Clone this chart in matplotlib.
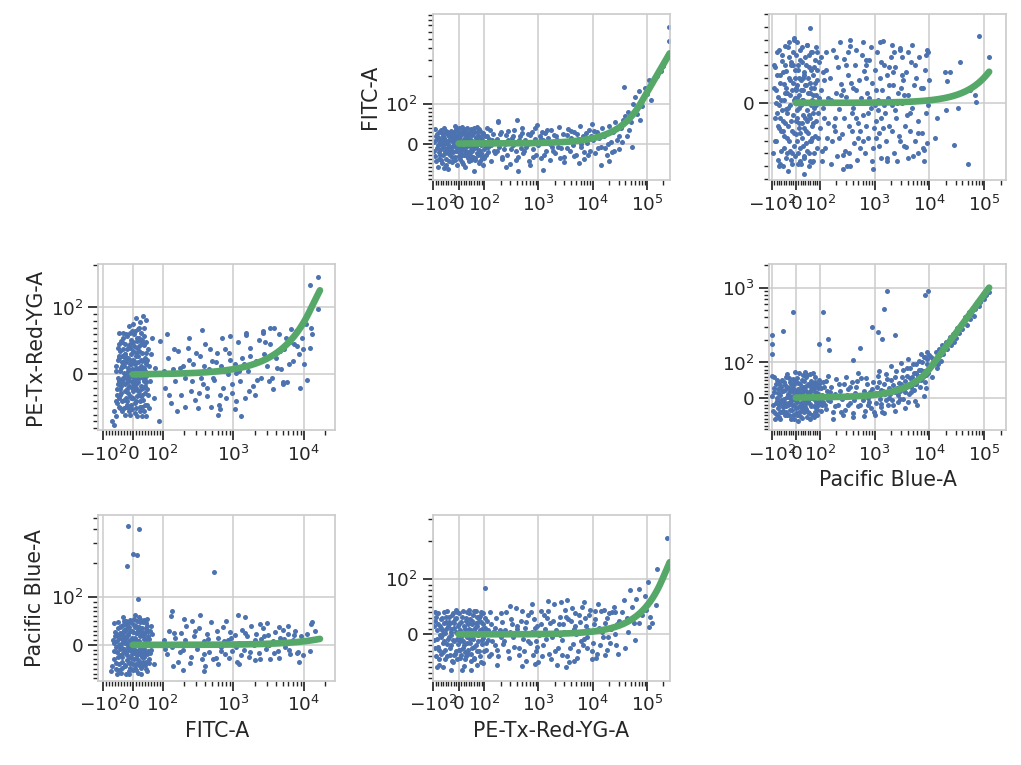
import numpy as np
import matplotlib
matplotlib.use("Agg")
import matplotlib.pyplot as plt
from matplotlib.ticker import FixedLocator

# seaborn-like "whitegrid" look, with ticks
plt.rcParams.update({
    'font.family': 'DejaVu Sans',
    'axes.edgecolor': '#cccccc',
    'axes.linewidth': 1.25,
    'axes.grid': True,
    'axes.axisbelow': True,
    'grid.color': '#cccccc',
    'grid.linewidth': 1.1,
    'text.color': '#262626',
    'axes.labelcolor': '#262626',
    'xtick.color': '#262626',
    'ytick.color': '#262626',
    'xtick.major.size': 7, 'ytick.major.size': 7,
    'xtick.minor.size': 3.5, 'ytick.minor.size': 3.5,
    'xtick.major.width': 1.25, 'ytick.major.width': 1.25,
    'xtick.minor.width': 1.0, 'ytick.minor.width': 1.0,
    'axes.labelsize': 14.8,
    'xtick.labelsize': 13.3, 'ytick.labelsize': 13.3,
})

BLUE = '#4c72b0'
GREEN = '#55a868'

channels = ['FITC-A', 'PE-Tx-Red-YG-A', 'Pacific Blue-A']

# ---- bleedthrough fits (slope, max x of the fitted line) ----
slope_pe_fitc, xmax_pe_fitc = 0.00134, 262144
slope_pb_fitc, xmax_pb_fitc = 2.0e-4, 123000
slope_fitc_pe, xmax_fitc_pe = 0.00786, 16800
slope_pb_pe, xmax_pb_pe = 0.00813, 123000
slope_fitc_pb, xmax_fitc_pb = 7.5e-4, 16800
slope_pe_pb, xmax_pe_pb = 5.2e-4, 262144

# ---- events (x, y) ----
pts_pe_fitc = np.array([
    (-95,-20),(-90,10),(-88,-45),(-85,25),(-82,-5),(-80,-60),(-78,15),(-75,-30),(-72,5),(-70,35),
    (-68,-15),(-65,-50),(-62,20),(-60,-8),(-58,40),(-55,-25),(-52,10),(-50,-40),(-48,28),(-45,-12),
    (-42,0),(-40,-65),(-38,18),(-35,-30),(-32,8),(-30,32),(-28,-18),(-25,-48),(-22,22),(-20,-5),
    (-18,12),(-15,-35),(-12,38),(-10,-10),(-8,5),(-5,-55),(-3,25),(0,-22),(2,15),(5,-40),
    (8,30),(10,-8),(12,42),(15,-28),(18,10),(20,-15),(22,35),(25,-60),(28,3),(30,20),
    (32,-32),(35,-2),(38,27),(40,-45),(42,12),(45,-18),(48,38),(50,-8),(52,22),(55,-35),
    (58,5),(60,-70),(62,30),(65,-12),(68,15),(70,-25),(72,42),(75,0),(78,-50),(80,18),
    (82,-20),(85,32),(88,-5),(90,10),(92,-38),(95,25),(98,-15),(105,5),(110,-30),(115,20),
    (120,-10),(128,35),(135,-45),(140,8),(150,-20),
    (-92,38),(-76,-40),(-58,-62),(-44,30),(-26,-8),(-14,44),(4,-12),(16,-52),(34,40),(46,-30),
    (64,-42),(86,-28),(-66,2),(-36,-20),(-6,18),(26,-20),(56,28),(76,20),(94,-55),
    (-97,5),(-93,-32),(-87,18),(-84,-12),(-79,30),(-77,-22),(-74,-2),(-71,-42),(-67,10),(-64,28),
    (-61,-30),(-59,-2),(-56,15),(-53,-18),(-51,32),(-49,-55),(-46,2),(-43,22),(-41,-25),(-39,8),
    (-36,-45),(-33,26),(-31,-10),(-29,14),(-27,-35),(-24,4),(-21,-22),(-19,30),(-16,-2),(-13,-42),
    (-11,18),(-9,-20),(-7,34),(-4,-8),(-1,10),(1,-32),(3,40),(6,0),(9,-18),(11,22),
    (14,-48),(17,5),(19,28),(21,-30),(24,14),(27,-8),(29,36),(31,-22),(33,4),(36,-36),
    (39,18),(41,-4),(44,30),(47,-42),(49,8),(51,-20),(54,26),(57,-12),(59,40),(61,-2),
    (63,-38),(66,16),(69,-8),(71,30),(74,-30),(77,6),(79,-16),(81,36),(84,-45),(87,14),
    (89,-25),(93,4),(97,28),(100,-38),(103,20),(107,-10),(112,40),(118,-22),(125,12),(132,-4),(145,24),
    (160,-25),(170,12),(180,55),(190,-8),(200,30),(210,-40),(220,5),(235,-15),(250,22),(265,-30),
    (280,8),(300,-52),(320,15),(340,-5),(360,35),(380,-20),(400,2),(420,-35),(450,18),(480,-12),
    (500,40),(530,-25),(560,10),(600,-8),(640,25),(680,-45),(720,5),(760,30),(800,-15),(850,12),
    (900,-30),(950,48),(1000,-5),(1050,20),(1100,-38),(1200,8),(1300,28),(1400,-18),(1500,15),(1600,-42),
    (1700,35),(1800,-8),(1900,22),(2000,-25),(2200,10),(2400,42),(2600,-12),(2800,25),(3000,-35),(3200,5),
    (3500,38),(3800,-20),(4000,15),(4300,-5),(4600,30),(5000,-28),(5400,12),(5800,45),(6200,-10),(6600,20),
    (7000,-40),(7500,28),(8000,2),(8500,35),(9000,-18),(9500,50),(10000,8),(11000,-25),(12000,30),(13000,15),
    (14000,-8),(15000,40),(16000,20),(18000,-30),(20000,45),(22000,5),(24000,30),(26000,55),(28000,10),(30000,-15),
    (33000,40),(36000,60),(250,-60),(700,-55),(1200,-68),(3000,-48),(400,60),(5500,-50),(14000,-55),(20000,-45),
    (420,-70),(181,57),(2300,-10),(6800,-22),(1150,30),(3300,22),(650,-2),(9200,18),(17000,-12),(25000,-20),
    (155,5),(175,-18),(195,25),(215,-35),(245,0),(275,32),(310,-15),(345,18),(390,-42),(440,8),
    (490,28),(550,-18),(620,2),(700,22),(780,-35),(870,40),(980,-2),(1100,12),(1250,-28),(1450,35),
    (1650,0),(1850,-20),(2100,18),(2500,-38),(2900,5),(3400,-12),(3900,32),(4500,-32),(5200,25),(6000,-2),
    (7200,14),(8200,-30),(10500,32),(12500,-12),(15500,22),(19000,0),(23000,-22),(27000,38),(31000,20),(35000,5),
    (40000,70),(45000,80),(50000,55),(55000,100),(60000,120),(65000,75),(70000,140),(80000,95),(90000,150),
    (100000,130),(110000,180),(120000,110),(150000,200),(180000,230),(200000,260),(38000,155),
    (255000,680),(258000,480),(42000,20),(47000,35),(52000,-10),(75000,60),
])

pts_pb_fitc = np.array([
    (-92,12),(-88,-30),(-85,28),(-80,-8),(-78,40),(-75,-45),(-72,5),(-70,-20),(-66,22),(-63,-38),
    (-60,2),(-57,33),(-55,-14),(-52,-50),(-50,15),(-47,-26),(-45,45),(-42,-5),(-40,25),(-37,-40),
    (-35,8),(-32,-18),(-30,36),(-27,-30),(-25,-2),(-22,18),(-20,-45),(-17,10),(-15,-22),(-12,30),
    (-10,-10),(-8,50),(-6,-34),(-4,4),(-2,20),(0,-25),(2,38),(4,-6),(6,14),(8,-48),
    (10,26),(12,-16),(14,6),(16,-36),(18,42),(20,-2),(22,18),(24,-28),(26,32),(28,-10),
    (30,10),(32,-42),(34,24),(36,-20),(38,0),(40,36),(42,-32),(44,14),(46,-6),(48,46),
    (50,-24),(52,8),(54,-40),(56,28),(58,-12),(60,16),(62,-30),(64,40),(66,2),(68,-18),
    (70,22),(72,-46),(74,12),(76,-4),(78,34),(80,-26),(82,6),(84,-14),(86,26),(88,-36),
    (90,18),(92,-8),(95,32),(100,-20),(105,10),(110,-38),(115,24),(120,-12),(128,40),(135,-28),(142,4),
    (-84,0),(-64,-12),(-46,8),(-28,48),(-14,-40),(0,12),(14,-20),(28,20),(42,0),(56,-50),
    (70,-8),(84,44),(-36,-8),(-18,30),(6,-12),(24,2),(48,-14),(64,12),(-52,-22),(32,-56),
    (-94,-40),(-91,30),(-87,-12),(-83,10),(-81,-30),(-77,22),(-74,-18),(-71,42),(-69,-2),(-67,-48),
    (-64,16),(-61,-22),(-59,38),(-56,-6),(-53,24),(-51,-36),(-49,2),(-46,-16),(-43,30),(-41,-44),
    (-39,12),(-36,-28),(-33,44),(-31,-4),(-29,20),(-26,-38),(-23,6),(-21,32),(-19,-14),(-16,-48),
    (-13,16),(-11,40),(-9,-24),(-7,2),(-5,26),(-3,-42),(-1,10),(1,-14),(3,48),(5,-30),
    (7,4),(9,30),(11,-40),(13,20),(15,-4),(17,-24),(19,34),(21,-48),(23,10),(25,-16),
    (27,44),(29,-34),(31,2),(33,22),(35,-44),(37,14),(39,-12),(41,30),(43,-22),(45,46),
    (47,-38),(49,0),(51,20),(53,-10),(55,38),(57,-30),(59,8),(61,-46),(63,26),(65,-2),
    (67,40),(69,-28),(71,6),(73,-16),(75,28),(77,-40),(79,16),(83,-2),(87,40),(91,-28),
    (97,4),(103,36),(108,-46),(113,-4),(118,18),(125,-36),(132,26),(138,-16),
    (58,59),(-7,51),(-68,-50),(-32,-54),(19,-46),(67,-47),
    (155,20),(165,-30),(175,42),(185,-12),(195,8),(205,-42),(215,28),(225,-5),(240,15),(255,-25),
    (270,35),(285,-38),(300,5),(320,22),(340,-18),(360,45),(380,-8),(400,12),(420,-32),(445,30),
    (470,-45),(495,0),(520,18),(550,-22),(580,38),(610,-10),(640,25),(680,-40),(720,8),(760,-28),
    (800,34),(850,-4),(900,16),(950,-36),(1000,26),(1050,-14),(1100,40),(1150,2),(1200,-24),(1260,20),
    (1320,-44),(1380,10),(1450,30),(1520,-8),(1600,-30),(1680,22),(1760,4),(1850,-18),(1950,36),(2050,-2),
    (2150,14),(2250,-40),(2350,28),(2500,-12),(2650,8),(2800,-26),(2950,42),(3100,0),(3300,18),(3500,-34),
    (3700,24),(3900,-10),(4100,6),(4350,-22),(4600,32),(4900,-4),(5200,14),(5500,-30),(5800,20),(6100,-14),
    (6500,36),(6900,2),(7300,-24),(7700,12),(8200,26),(8700,-8),(9200,-32),(9800,18),
    (160,-48),(230,48),(310,-50),(390,-22),(460,10),(530,-36),(600,48),(700,-18),(780,4),(880,-46),
    (1080,-28),(1230,48),(1420,-20),(1700,-44),(2100,46),(2600,-46),(3200,36),(4000,-44),(4800,46),(6300,-40),
    (7800,-46),(9500,40),(2200,24),(3400,6),(1150,-6),(700,30),(450,-12),(260,10),(190,-22),
    (158,2),(178,-18),(198,36),(222,-28),(248,6),(276,-12),(305,30),(335,-40),(370,16),(410,-4),
    (455,42),(505,-16),(560,4),(625,-30),(690,20),(770,-8),(860,44),(960,-20),(1070,10),(1190,-34),
    (1330,32),(1490,-2),(1660,-46),(1850,14),(2070,-22),(2300,40),(2570,0),(2870,-30),(3200,22),(3570,-18),
    (3980,40),(4440,-8),(4950,-42),(5520,30),(6160,-24),(6870,12),(7660,-36),(8540,38),(9520,-2),(1000,-2),
    (1300,-12),(1800,28),(2400,-6),(3000,12),(500,-28),(700,34),(320,40),
    (262,-52),(350,-50),(950,-52),(265,-41),(1400,49),(360,50),(2900,43),(9000,42),(3800,-35),(8000,-37),
    (79000,53),(123000,36),(51000,-48),(28000,-33),(23500,24),(36000,32),(68000,6),(70000,1),(55000,10),
    (19000,24),(21000,17),(14000,3),(20000,-6),(12400,-28),(14000,-12),(33000,-4),
])

pts_fitc_pe = np.array([
    (-58,-62),(-55,5),(-52,-30),(-50,22),(-48,-48),(-46,-10),(-44,35),(-42,-22),(-40,10),(-38,-55),
    (-36,48),(-34,-5),(-32,18),(-30,-38),(-28,30),(-26,-15),(-24,60),(-22,0),(-20,-45),(-18,25),
    (-16,-28),(-14,42),(-12,-8),(-10,15),(-8,-60),(-6,52),(-4,-20),(-2,8),(0,35),(2,-35),
    (4,20),(6,-12),(8,65),(10,-50),(12,2),(14,40),(16,-25),(18,28),(20,-5),(22,55),
    (24,-40),(26,12),(28,-18),(30,45),(32,-30),(34,6),(36,70),(38,-10),(40,25),(42,-45),
    (44,18),(46,82),(48,-22),(50,38),(52,0),
    (-45,45),(-35,-40),(-25,-60),(-15,10),(-5,30),(5,-5),(15,50),(25,-55),(35,-20),(45,15),
    (-40,-18),(-30,2),(-20,38),(-10,-32),(0,-12),(10,28),(20,-30),(30,8),(40,-8),(-50,-15),
    (-28,-2),(-18,-12),(-8,22),(2,48),(12,-40),(22,10),(32,32),(42,-28),(-36,12),(-26,25),
    (-6,-45),(8,-22),(18,6),(28,62),(38,44),(-12,72),(-2,-52),(14,-62),(24,78),(34,88),
    (-22,-35),(6,15),(-16,-10),(-4,-2),(-32,55),(-14,-50),(4,60),(16,-5),(26,-32),(36,22),
    (-44,-30),(-24,18),(-8,40),(10,-15),(20,42),(30,-48),(44,-12),(-38,28),(-20,-22),(0,5),
    (-57,12),(-54,-22),(-51,40),(-49,-5),(-47,25),(-45,-35),(-43,5),(-41,50),(-39,-28),(-37,18),
    (-35,-8),(-33,38),(-31,-50),(-29,12),(-27,-25),(-25,30),(-23,-5),(-21,58),(-19,-40),(-17,5),
    (-15,25),(-13,-18),(-11,45),(-9,-2),(-7,-35),(-5,15),(-3,65),(-1,-25),(1,22),(3,-8),
    (5,42),(7,-42),(9,10),(11,-20),(13,55),(15,-32),(17,18),(19,-12),(21,35),(23,-48),
    (25,2),(27,48),(29,-22),(31,20),(33,-5),(35,-38),(37,10),(39,58),(41,-18),(43,32),
    (45,-2),(47,-45),(49,22),(51,-30),(53,12),
    (-48,28),(-38,-12),(-28,45),(-18,-2),(-8,62),(2,-18),(12,32),(22,-25),(32,52),(42,5),
    (-44,-50),(-24,-48),(-4,-12),(16,68),(26,22),(36,-55),(46,48),(-34,62),(-14,-55),(6,-58),
    (-46,62),(-52,-42),(0,75),(10,84),(20,70),(30,-62),
    (-70,-70),(-62,-75),(-65,-55),(-55,-40),(45,-62),(55,-50),(60,30),(65,55),(58,-10),(70,-35),(75,10),
    (110,-20),(120,25),(130,-42),(140,8),(150,-10),(165,35),(180,-30),(195,12),(210,-5),(230,40),
    (250,-25),(270,15),(290,-38),(310,2),(340,28),(370,-15),(400,45),(430,-32),(460,8),(500,20),
    (540,-8),(580,32),(620,-45),(670,12),(720,-20),(770,38),(830,0),(900,22),(970,-28),(1050,15),
    (1150,48),(1250,-10),(1350,25),(1480,-35),(1600,5),(1750,40),(1900,-18),(2100,20),(2300,52),(2500,-5),
    (2750,30),(3000,12),(3300,45),(3600,-22),(4000,25),(4400,60),(4800,8),(5300,38),(5800,-12),(6400,48),
    (7000,20),(7700,65),(8500,30),(9300,55),(10000,15),
    (115,60),(160,-55),(240,55),(320,-50),(480,-48),(700,55),(1100,-40),(1500,62),(2000,-30),(3800,70),
    (5000,-15),(600,-60),(1300,-62),(900,58),(2600,62),(350,-5),(800,-35),(1200,5),(1700,28),(3200,-10),
    (4600,35),(6600,68),(12000,40),(12500,70),(13000,60),(11000,-8),(9000,72),(8000,42),
    (105,5),(125,-30),(145,38),(175,10),(205,-48),(235,22),(265,-10),(300,32),(330,-28),(380,12),
    (420,-20),(470,38),(520,-5),(570,18),(650,-30),(750,5),(860,32),(950,-15),(1100,2),(1400,15),
    (1650,-25),(2200,-8),(2800,48),(3500,-5),(4200,10),(5500,55),(6200,15),(7300,45),(8800,-20),(9600,38),
    (5100,-11),(1060,-51),(640,-52),(89,-70),(360,66),(2650,65),(3300,70),(1500,59),(92,50),
    (12000,143),(16000,164),(16000,98),(10500,75),
])

pts_pb_pe = np.array([
    (-95,-20),(-90,15),(-86,-45),(-82,40),(-78,0),(-75,-30),(-72,25),(-68,-55),(-65,8),(-62,-12),
    (-58,50),(-55,-38),(-52,18),(-48,-5),(-45,35),(-42,-25),(-40,60),(-37,-48),(-34,10),(-31,-15),
    (-28,28),(-25,-35),(-22,45),(-20,2),(-17,-22),(-14,20),(-11,-50),(-8,38),(-5,-8),(-2,15),
    (0,-30),(3,55),(6,-12),(9,25),(12,-42),(15,5),(18,40),(21,-20),(24,12),(27,-58),
    (30,30),(33,-6),(36,48),(39,-28),(42,18),(45,-10),(48,65),(51,-40),(54,8),(57,32),
    (60,-18),(63,22),(66,-48),(69,42),(72,0),(75,-25),(78,15),(81,58),(84,-12),(87,35),
    (90,-35),(93,10),(96,50),(100,-8),(105,28),(110,-22),(115,45),(120,5),(128,-32),(135,20),(142,62),
    (-80,-10),(-60,30),(-44,-50),(-26,-2),(-12,52),(4,-50),(20,-38),(34,0),(50,40),(64,-2),
    (80,-42),(94,-22),(-70,45),(-50,-22),(-30,8),(-18,-60),(8,8),(26,-30),(44,34),(58,-60),
    (76,28),(-88,-60),(-66,-40),(14,70),(40,72),(70,70),(-35,68),(-5,72),
    (-97,5),(-93,-38),(-89,28),(-84,-15),(-80,50),(-77,-48),(-73,12),(-69,-22),(-67,35),(-63,-8),
    (-59,-42),(-56,20),(-53,-28),(-50,45),(-47,-12),(-44,22),(-41,-40),(-38,2),(-36,30),(-33,-20),
    (-30,55),(-27,-50),(-24,18),(-21,-10),(-19,38),(-16,-35),(-13,5),(-10,28),(-7,-22),(-4,48),
    (-1,-45),(2,20),(5,-2),(8,42),(11,-28),(14,15),(17,-52),(20,28),(23,-15),(26,50),
    (29,0),(32,-42),(35,22),(38,-18),(41,60),(44,-32),(47,8),(50,-10),(53,35),(56,-45),
    (59,15),(62,48),(65,-25),(68,2),(71,32),(74,-55),(77,-5),(80,45),(83,-30),(86,12),
    (89,-48),(92,28),(95,-15),(98,38),(103,-38),(108,8),(113,-12),(118,30),(124,-20),(132,48),
    (139,-8),(-64,-60),(-8,-60),(46,-55),(-90,60),(30,65),(10,-65),(60,68),
    (-13,474),(113,474),(-55,264),(-100,233),(-100,177),(-100,129),(-100,62),
    (150,-10),(160,30),(170,-40),(185,10),(200,52),(215,-22),(230,18),(250,-5),(270,40),(290,-35),
    (310,8),(330,25),(355,-15),(380,45),(405,-45),(430,12),(460,30),(490,-25),(520,5),(560,55),
    (600,-8),(640,20),(680,-38),(720,38),(770,0),(820,15),(870,-30),(920,45),(980,8),(1040,-15),
    (1100,30),(1160,62),(1230,-5),(1300,22),(1380,-40),(1460,40),(1550,10),(1640,68),(1740,-20),(1850,28),
    (1960,50),(2080,-8),(2200,35),(2330,15),(2470,75),(2620,-12),(2780,42),(2950,20),(3130,60),(3320,-5),
    (3520,48),(3730,30),(3950,85),(4200,10),(4450,55),(4720,38),(5000,95),(5300,22),(5620,70),(5960,48),
    (6320,105),(6700,30),(7100,80),(7530,60),(7980,118),(8460,45),(8970,95),(9500,70),
    (175,-60),(260,-48),(400,-55),(650,-52),(1000,-50),(1500,-45),(2400,-38),(3600,-30),(5500,-10),(8000,5),
    (300,60),(500,70),(1200,75),(2000,90),(3000,98),(7000,130),(9000,140),(4000,110),(6000,-20),(250,0),
    (750,-20),(1800,0),(2700,8),(4600,15),(700,10),(1300,-18),(3400,25),(5800,40),(8500,28),
    (155,15),(190,-25),(220,38),(245,-42),(280,5),(320,-22),(360,30),(420,-8),(480,48),(540,-20),
    (620,2),(700,55),(790,-12),(880,25),(960,-40),(1070,12),(1180,45),(1320,-28),(1420,18),(1600,-8),
    (1700,52),(1900,10),(2150,-22),(2350,58),(2550,28),(2850,-5),(3050,40),(3250,80),(3600,15),(3850,62),
    (4100,-12),(4350,85),(4600,30),(4900,58),(5150,70),(5450,40),(5750,95),(6100,62),(6500,80),(6900,50),
    (7300,100),(7800,75),(8200,120),(8700,65),(9200,110),(9700,90),(9900,125),
    (1650,900),(8400,800),(9500,900),(1450,520),(900,300),(1150,257),(1350,207),(2400,233),(138,207),
    (95,177),(145,148),(534,157),(400,108),
    (10500,90),(11000,60),(11500,110),(12000,95),(13000,140),(13500,85),(14000,120),(15000,150),(16000,105),
    (17000,170),(18000,130),(20000,190),(21000,150),(23000,200),(25000,170),(27000,240),(30000,210),
    (32000,290),(35000,250),(38000,330),(40000,280),(45000,400),(48000,320),(52000,470),(55000,380),
    (60000,520),(65000,420),(70000,600),(80000,560),(90000,750),(100000,700),(115000,920),(120000,870),
    (10800,120),(12500,110),(14500,95),(16500,140),(19000,165),(22000,175),(24000,220),(28000,190),
    (33000,260),(36000,300),(42000,350),(50000,410),(58000,450),(68000,520),(75000,650),(85000,640),
    (95000,820),(110000,800),
])

pts_fitc_pb = np.array([
    (-65,-30),(-62,5),(-58,-50),(-55,20),(-52,-15),(-50,35),(-48,-40),(-45,0),(-42,25),(-40,-58),
    (-38,12),(-36,-25),(-34,42),(-32,-8),(-30,18),(-28,-45),(-26,30),(-24,-18),(-22,50),(-20,2),
    (-18,-32),(-16,22),(-14,-55),(-12,38),(-10,-10),(-8,10),(-6,-38),(-4,45),(-2,-20),(0,28),
    (2,-5),(4,55),(6,-48),(8,15),(10,-28),(12,40),(14,0),(16,-15),(18,32),(20,-42),
    (22,8),(24,48),(26,-22),(28,20),(30,-6),(32,36),(34,-35),(36,12),(38,52),(40,-18),
    (42,26),(44,-50),(46,4),(48,40),(50,-12),(52,18),(55,-30),(58,30),
    (-56,-5),(-46,15),(-36,-48),(-26,8),(-16,45),(-6,-2),(4,-30),(14,25),(24,-35),(34,20),
    (44,45),(-60,18),(-44,-22),(-30,50),(-10,30),(10,-52),(20,58),(30,-25),(40,2),(-20,-12),
    (0,-40),(-40,40),(6,38),(16,-58),(26,52),(36,-8),(-34,28),(-14,-25),(-4,15),(46,-35),
    (-24,-60),(-50,48),(62,-10),(65,22),(70,-40),(-70,-45),(-75,-55),(-68,10),
    (-28,5),(-8,-48),(12,10),(32,-45),(50,30),(-42,-8),(-18,35),(2,-15),(22,-10),(42,12),
    (-63,-12),(-59,28),(-57,-38),(-53,8),(-51,-25),(-49,20),(-47,-52),(-44,38),(-41,-5),(-39,22),
    (-37,-35),(-35,5),(-33,-18),(-31,32),(-29,-8),(-27,45),(-25,-42),(-23,15),(-21,-22),(-19,42),
    (-17,-5),(-15,20),(-13,-38),(-11,8),(-9,52),(-7,-28),(-5,0),(-3,30),(-1,-52),(1,12),
    (3,-18),(5,42),(7,-10),(9,25),(11,-40),(13,50),(15,-22),(17,8),(19,-32),(21,38),
    (23,-8),(25,18),(27,-48),(29,30),(31,-15),(33,48),(35,2),(37,-25),(39,22),(41,-42),
    (43,10),(45,35),(47,-20),(49,55),(51,0),(53,-38),(56,12),(59,-18),(61,40),(-54,-60),
    (-32,58),(-12,-60),(8,62),(28,-60),(48,-55),(-62,45),
    (-15,420),(22,400),(2,241),(13,234),(-18,187),(19,97),(535,167),
    (105,10),(115,-20),(125,30),(135,-5),(150,15),(165,-35),(180,25),(195,-10),(215,40),(235,0),
    (255,-25),(280,18),(305,-8),(330,35),(360,-30),(390,8),(420,22),(455,-15),(490,48),(530,2),
    (570,-28),(610,15),(660,-5),(710,38),(770,-20),(830,10),(900,28),(970,-12),(1050,20),(1130,-35),
    (1220,5),(1320,32),(1420,-10),(1540,18),(1660,-25),(1800,40),(1950,0),(2100,22),(2280,-18),(2460,12),
    (2660,35),(2880,-8),(3100,20),(3360,-30),(3640,8),(3940,28),(4270,-12),(4620,15),(5000,32),(5400,-5),
    (5850,22),(6350,-20),(6900,10),(7500,30),(8200,-15),(9000,18),(11000,22),(13000,48),(9800,-22),
    (140,-45),(200,55),(400,-45),(800,50),(1200,-40),(2000,-32),(3000,45),(4400,-28),(6000,40),(130,60),(260,50),
    (110,-8),(145,25),(175,-15),(205,10),(245,-38),(290,30),(340,0),(380,-20),(440,12),(510,-30),
    (590,30),(680,-12),(740,8),(860,-28),(940,15),(1080,-5),(1280,-22),(1480,25),(1700,-15),(2000,10),
    (2350,-30),(2750,18),(3250,0),(3800,-18),(4500,38),(5200,12),(6100,-10),(7200,20),(8600,-35),(10500,8),
    (12000,-12),(14500,30),
    (138,72),(335,62),(1180,62),(1470,58),(2400,44),(12500,44),(196,-52),(380,-54),(610,-40),(8000,-17),
])

pts_pe_pb = np.array([
    (-98,-10),(-94,25),(-90,-40),(-86,8),(-83,-22),(-80,38),(-76,-55),(-73,15),(-70,-5),(-66,30),
    (-63,-32),(-60,0),(-57,20),(-54,-45),(-50,10),(-47,-18),(-44,42),(-41,-8),(-38,22),(-35,-38),
    (-32,5),(-29,-20),(-26,35),(-23,-50),(-20,12),(-17,-12),(-14,28),(-11,-30),(-8,2),(-5,40),
    (-2,-18),(1,18),(4,-42),(7,8),(10,-5),(13,32),(16,-25),(19,15),(22,-58),(25,0),
    (28,25),(31,-15),(34,40),(37,-35),(40,10),(43,-8),(46,28),(49,-48),(52,18),(55,-2),
    (58,36),(61,-22),(64,5),(67,42),(70,-30),(73,15),(76,-12),(79,30),(82,-40),(85,2),
    (88,22),(91,-18),(94,38),(97,-6),(102,12),(108,-28),(114,25),(120,-10),(128,40),(136,-35),(145,5),
    (-92,40),(-78,-28),(-62,-60),(-48,32),(-30,-2),(-12,45),(6,-28),(24,-32),(42,45),(60,-45),
    (78,0),(96,-52),(-68,12),(-36,18),(-6,-8),(18,-12),(36,20),(54,-25),(72,-55),(90,10),
    (-84,-60),(-20,-38),(15,-65),(48,2),(84,34),(-56,-12),(-24,22),(0,-10),(30,-40),(66,20),
    (-96,15),(-92,-25),(-88,32),(-85,-8),(-81,18),(-78,-45),(-74,-2),(-71,28),(-68,-35),(-64,8),
    (-61,-15),(-58,40),(-55,-28),(-52,2),(-49,22),(-45,-40),(-42,15),(-39,-5),(-36,32),(-33,-25),
    (-30,10),(-27,-48),(-24,38),(-21,-10),(-18,20),(-15,-35),(-12,5),(-9,30),(-6,-45),(-3,15),
    (0,-28),(3,38),(5,-12),(8,22),(11,-38),(14,2),(17,42),(20,-20),(23,10),(26,-45),
    (29,30),(32,-5),(35,18),(38,-28),(41,38),(44,-15),(47,8),(50,-35),(53,25),(56,-8),
    (59,42),(62,-42),(65,12),(68,-20),(71,32),(74,-2),(77,22),(80,-30),(83,8),(86,-50),
    (89,40),(92,-10),(95,18),(99,-30),(104,30),(110,-15),(116,8),(124,-40),(132,18),(140,-12),
    (47,-64),(-30,-64),(105,85),
    (155,-20),(165,30),(180,-40),(195,8),(210,22),(230,-12),(250,40),(270,-30),(295,5),(320,18),
    (350,-22),(380,48),(410,0),(445,-38),(480,25),(520,-8),(560,12),(600,-48),(650,35),(700,-15),
    (760,5),(820,28),(890,-30),(960,15),(1040,-2),(1120,42),(1210,-20),(1310,10),(1420,30),(1540,-35),
    (1660,20),(1800,-5),(1950,55),(2100,8),(2280,-25),(2460,32),(2660,-10),(2880,18),(3120,45),(3380,-40),
    (3650,5),(3950,25),(4280,-18),(4630,38),(5000,0),(5400,-30),(5850,22),(6330,50),(6850,-8),(7400,15),
    (8000,-25),(8650,35),(9350,5),(10100,-15),(11000,28),(12000,-35),(13000,12),(14200,42),(15500,-5),(17000,20),
    (18500,-28),(20000,38),(22000,10),(24500,50),(27000,-20),(30000,25),
    (170,-55),(300,52),(500,-58),(750,55),(1000,-50),(1500,60),(2200,-55),(3300,62),(4500,-48),(7000,58),
    (9800,-45),(2600,58),(200,-5),(400,10),(900,-12),(1250,35),(1700,-45),(2500,-2),(3500,28),(4800,15),
    (6000,-12),(8200,8),(11500,-42),(16000,45),(19000,-5),(26000,40),(28000,18),(12500,55),
    (158,12),(175,-28),(200,38),(220,-18),(245,8),(285,-42),(310,28),(340,-5),(395,15),(430,-25),
    (500,42),(540,-30),(580,22),(630,-12),(720,40),(800,-38),(860,12),(940,-22),(1100,18),(1180,-40),
    (1360,-8),(1480,42),(1600,0),(1880,25),(2050,-30),(2380,18),(2750,-38),(3000,5),(3250,32),(3800,-25),
    (4100,48),(4450,10),(5200,-42),(5650,35),(6600,-20),(7200,30),(7800,-5),(9000,45),(9700,-30),(10500,18),
    (11200,42),(13600,-20),(14800,5),(16500,-38),(18000,30),(21000,-15),(23000,40),(25500,0),(29000,-35),
    (860,-53),(3200,-59),(3700,-50),
    (35000,40),(38000,62),(42000,30),(48000,80),(52000,50),(58000,20),(62000,65),(72000,83),(80000,35),
    (95000,45),(105000,95),(110000,13),(115000,31),(145000,53),(150000,121),(230000,210),(60000,-10),
    (40000,-25),(45000,5),(90000,70),(125000,20),(70000,21),
])

# (row, col, points, slope, xmax, xlim, ylim, x linscale, y linscale)
panels = [
    (0, 1, pts_pe_fitc, slope_pe_fitc, xmax_pe_fitc, (-102, 262144), (-93, 920), 0.47, 0.42),
    (0, 2, pts_pb_fitc, slope_pb_fitc, xmax_pb_fitc, (-112, 250000), (-61, 70), 0.44, 0.42),
    (1, 0, pts_fitc_pe, slope_fitc_pe, xmax_fitc_pe, (-117, 27700), (-83, 201), 0.42, 0.47),
    (1, 2, pts_pb_pe, slope_pb_pe, xmax_pb_pe, (-112, 250000), (-92, 2050), 0.44, 0.47),
    (2, 0, pts_fitc_pb, slope_fitc_pb, xmax_fitc_pb, (-117, 27700), (-75, 528), 0.42, 0.42),
    (2, 1, pts_pe_pb, slope_pe_pb, xmax_pe_pb, (-102, 262144), (-84, 322), 0.47, 0.436),
]

W, H = 1021, 765
col_left = [98.3, 432.7, 769.0]
row_top = [14.3, 264.3, 515.0]
AW, AH = 237.0, 165.7

major = [-1e5, -1e4, -1e3, -100, 0, 100, 1e3, 1e4, 1e5]
minor = [s * v for s in (-1, 1) for v in range(10, 100, 10)]
minor += [s * k * 10 ** n for s in (-1, 1) for n in range(2, 6) for k in range(2, 10)]

fig = plt.figure(figsize=(W / 100, H / 100), dpi=100)

for r, c, pts, k, xmax, xl, yl, lsx, lsy in panels:
    ax = fig.add_axes([col_left[c] / W, 1 - (row_top[r] + AH) / H, AW / W, AH / H])
    ax.set_xscale('symlog', linthresh=100, linscale=lsx * 0.9)
    ax.set_yscale('symlog', linthresh=100, linscale=lsy * 0.9)
    ax.scatter(pts[:, 0], pts[:, 1], s=13, color=BLUE, linewidths=0, zorder=2)
    xs = np.linspace(0, xmax, 400)
    ax.plot(xs, k * xs, color=GREEN, lw=4.8, solid_capstyle='round', zorder=3)
    ax.set_xlim(*xl)
    ax.set_ylim(*yl)
    for axis in (ax.xaxis, ax.yaxis):
        axis.set_major_locator(FixedLocator(major))
        axis.set_minor_locator(FixedLocator(minor))
    ax.grid(True, which='major')
    ax.grid(False, which='minor')
    for sp in ax.spines.values():
        sp.set_color('#cccccc')

    if (r, c) in [(0, 1), (1, 0), (2, 0)]:
        ax.set_ylabel(channels[r])
    if (r, c) in [(1, 2), (2, 0), (2, 1)]:
        ax.set_xlabel(channels[c])

fig.savefig('out.png', dpi=100)
